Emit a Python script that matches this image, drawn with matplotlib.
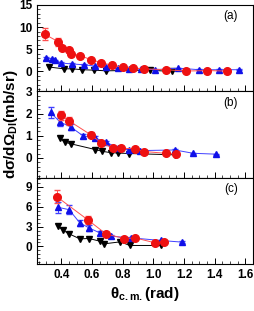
import matplotlib
matplotlib.use("Agg")
import matplotlib.pyplot as plt
from matplotlib.ticker import MultipleLocator

plt.rcParams['font.family'] = ['Liberation Sans', 'DejaVu Sans']
plt.rcParams['mathtext.fontset'] = 'custom'
plt.rcParams['mathtext.rm'] = 'Liberation Sans'
plt.rcParams['mathtext.bf'] = 'Liberation Sans:bold'

# panel (a)
a_red_x = [0.29, 0.38, 0.405, 0.45, 0.46, 0.52, 0.59, 0.66, 0.73, 0.80, 0.87, 0.94, 1.08, 1.21, 1.35, 1.48]
a_red_y = [8.4, 6.7, 5.3, 4.9, 4.0, 3.6, 2.7, 2.0, 1.4, 1.0, 0.75, 0.6, 0.4, 0.1, 0.2, 0.1]
a_red_e = [1.3, 0.9, 0.5, 0.5, 0.4, 0.3, 0.2, 0.2, 0.1, 0.1, 0.1, 0.1, 0.1, 0.1, 0.1, 0.1]
a_blue_x = [0.30, 0.34, 0.36, 0.40, 0.47, 0.55, 0.62, 0.69, 0.77, 0.84, 0.92, 1.01, 1.16, 1.30, 1.43, 1.56]
a_blue_y = [3.0, 2.8, 2.5, 1.9, 1.7, 1.5, 1.2, 1.0, 0.75, 0.6, 0.6, 0.4, 0.75, 0.4, 0.4, 0.4]
a_blue_e = [0.3, 0.3, 0.2, 0.2, 0.2, 0.1, 0.1, 0.1, 0.1, 0.1, 0.1, 0.1, 0.1, 0.1, 0.1, 0.1]
a_blk_x = [0.32, 0.415, 0.47, 0.535, 0.61, 0.69, 0.975, 1.12]
a_blk_y = [1.0, 0.6, 0.6, 0.4, 0.3, 0.15, 0.3, 0.0]

# panel (b)
b_red_x = [0.40, 0.45, 0.59, 0.66, 0.735, 0.79, 0.88, 0.94, 1.08, 1.15]
b_red_y = [1.92, 1.67, 1.05, 0.68, 0.45, 0.44, 0.41, 0.29, 0.21, 0.18]
b_red_e = [0.2, 0.17, 0.1, 0.06, 0.04, 0.04, 0.04, 0.03, 0.02, 0.02]
b_blue_x = [0.33, 0.39, 0.46, 0.54, 0.62, 0.69, 0.77, 0.84, 0.91, 1.14, 1.26, 1.41]
b_blue_y = [2.05, 1.62, 1.4, 1.0, 0.9, 0.71, 0.45, 0.37, 0.33, 0.36, 0.21, 0.17]
b_blue_e = [0.25, 0.18, 0.14, 0.1, 0.08, 0.06, 0.05, 0.04, 0.03, 0.05, 0.02, 0.02]
b_blk_x = [0.39, 0.42, 0.46, 0.62, 0.665, 0.72, 0.77, 0.84, 1.14]
b_blk_y = [0.9, 0.71, 0.64, 0.38, 0.3, 0.24, 0.22, 0.2, 0.14]

# panel (c)
c_red_x = [0.37, 0.57, 0.69, 0.81, 0.88, 1.01, 1.07]
c_red_y = [7.5, 4.05, 1.9, 1.2, 1.3, 0.55, 0.7]
c_red_e = [1.0, 0.6, 0.3, 0.2, 0.2, 0.1, 0.1]
c_blue_x = [0.38, 0.45, 0.52, 0.58, 0.65, 0.72, 0.855, 1.05, 1.19]
c_blue_y = [5.9, 5.55, 3.55, 2.8, 2.05, 1.55, 1.3, 0.9, 0.65]
c_blue_e = [0.8, 0.7, 0.5, 0.4, 0.3, 0.2, 0.15, 0.1, 0.1]
c_blk_x = [0.375, 0.41, 0.45, 0.52, 0.58, 0.65, 0.68, 0.785, 0.845, 1.05]
c_blk_y = [3.15, 2.45, 1.9, 1.15, 1.2, 0.8, 0.4, 0.7, 0.15, 0.15]

panels = [
    ("(a)", (-4.5, 15), 5, (a_red_x, a_red_y, a_red_e), (a_blue_x, a_blue_y, a_blue_e), (a_blk_x, a_blk_y)),
    ("(b)", (-0.9, 3), 1, (b_red_x, b_red_y, b_red_e), (b_blue_x, b_blue_y, b_blue_e), (b_blk_x, b_blk_y)),
    ("(c)", (-2.7, 10.35), 3, (c_red_x, c_red_y, c_red_e), (c_blue_x, c_blue_y, c_blue_e), (c_blk_x, c_blk_y)),
]

fig, axes = plt.subplots(3, 1, figsize=(2.55, 3.11), dpi=100, sharex=True)
fig.subplots_adjust(left=0.145, right=0.992, top=0.984, bottom=0.15, hspace=0)

for ax, (lab, ylim, step, red, blue, blk) in zip(axes, panels):
    ax.plot(blk[0], blk[1], color='black', lw=0.7, marker='v', ms=4.8, zorder=2)
    ax.errorbar(blue[0], blue[1], yerr=blue[2], color='#4040ff', lw=0.7, marker='^',
                ms=4.8, mfc='#1010e8', mec='#1010e8', capsize=2, elinewidth=0.7, zorder=3)
    ax.errorbar(red[0], red[1], yerr=red[2], color='#ff5050', lw=0.7, marker='o',
                ms=5.5, mfc='#ee1111', mec='#ee1111', capsize=2, elinewidth=0.7, zorder=4)
    ax.set_ylim(*ylim)
    ax.set_xlim(0.24, 1.65)
    ax.yaxis.set_major_locator(MultipleLocator(step))
    ax.yaxis.set_minor_locator(MultipleLocator(step / 5))
    ax.xaxis.set_major_locator(MultipleLocator(0.2))
    ax.xaxis.set_minor_locator(MultipleLocator(0.05))
    ax.tick_params(which='both', direction='in', labelsize=8.5)
    ax.tick_params(which='major', length=4, width=0.7)
    ax.tick_params(which='minor', length=2, width=0.5)
    for lbl in ax.get_yticklabels() + ax.get_xticklabels():
        lbl.set_fontweight('bold')
    for s in ax.spines.values():
        s.set_linewidth(0.8)
    ax.text(0.93, 0.87, lab, transform=ax.transAxes, ha='right', va='center', fontsize=8.5)

axes[2].set_xticks([0.4, 0.6, 0.8, 1.0, 1.2, 1.4, 1.6])
axes[2].set_xticklabels(['0.4', '0.6', '0.8', '1.0', '1.2', '1.4', '1.6'], fontweight='bold')
axes[2].set_xlabel(r'$\mathbf{\theta_{c.m.}}$(rad)', fontsize=11, fontweight='bold', labelpad=3)
fig.text(0.045, 0.6, r'd$\mathbf{\sigma}$/d$\mathbf{\Omega_{DI}}$(mb/sr)', rotation=90,
         ha='center', va='center', fontsize=11, fontweight='bold')

fig.savefig('out.png', dpi=100)
